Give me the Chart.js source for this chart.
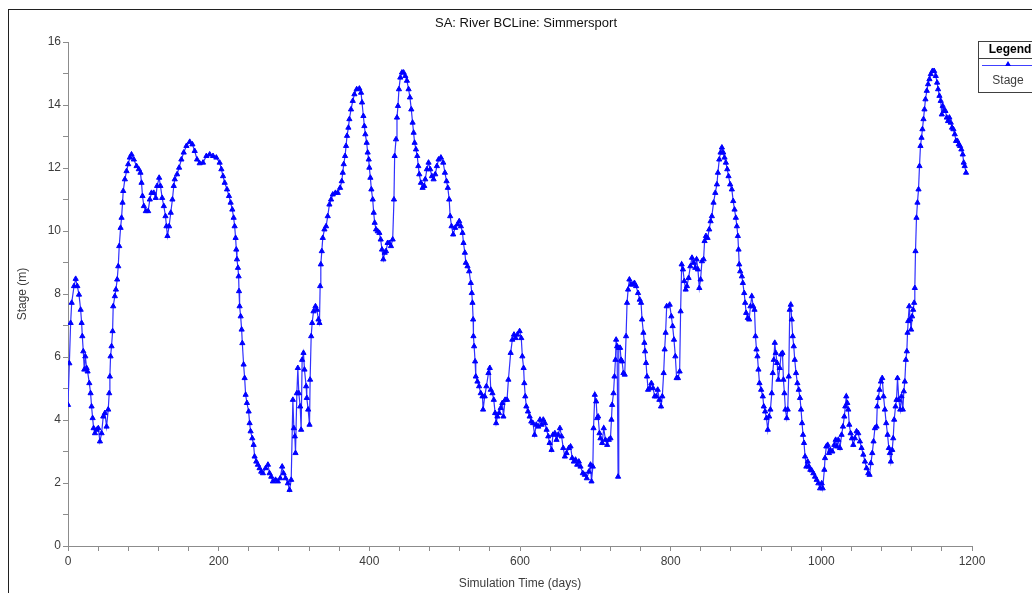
<!DOCTYPE html>
<html>
<head>
<meta charset="utf-8">
<title>SA: River BCLine: Simmersport</title>
<script src="https://cdn.jsdelivr.net/npm/chart.js@4/dist/chart.umd.min.js"></script>
<style>
  html, body { margin: 0; padding: 0; background: #fff; }
  #wrap { width: 1032px; height: 593px; position: relative; }
</style>
</head>
<body>
<div id="wrap"><canvas id="stageChart" width="1032" height="593"></canvas></div>
<script>
// Stage hydrograph at the Simmersport boundary line
const chartTitle = "SA: River BCLine: Simmersport";
const seriesName = "Stage";

// simulation time (days)
const days = [
  0, 1.8, 3.5, 4.9, 8, 10.2, 12.4, 14.6, 16.8, 18.1, 19, 20.3, 21.6, 23, 24.7, 26, 28.3, 30, 31.3, 32.7,
  34, 35.8, 38, 40.2, 42.4, 44.6, 46.8, 49, 51.2, 53.4, 54.7, 55.6, 56.5, 57.8, 59.2, 60, 62.2, 63.6, 65.3, 66.7,
  68, 69.8, 71.1, 72.4, 73.3, 75.5, 77.7, 79.9, 82.1, 84.3, 87.4, 91, 94, 96.2, 97.6, 98.9, 100.7, 103.3, 106.4, 108.6,
  110.8, 113.9, 116.5, 118.3, 121, 122.7, 125, 127.2, 129.4, 130.7, 132, 134.2, 136.4, 138.6, 140.4, 141.7, 144.8, 147.5, 150.5, 153.6,
  157.2, 161.6, 165.1, 168.2, 171.3, 174.8, 179.2, 183.7, 188.1, 192.5, 196.9,
  201.3, 203.6, 205.8, 208, 211.1, 213.7, 215.9, 218.1, 219.9, 221.2, 222.5, 223.4, 224.3, 225.6, 226.5, 227, 227.8, 229.2, 230.5, 231.4,
  233.1, 234.5, 235.8, 237.5, 239.8, 241.1, 242.4, 244.6, 246.4, 247.7, 249.9, 252.1, 254.3, 256.5, 258.7, 262.3, 265.4, 267.6, 269.8, 272,
  275.5, 278.6, 281.7, 284.3, 286.1, 288.8, 291.9, 294.1, 296.3, 298.5, 299.8, 301.1, 302, 303.8, 305.1, 306.4, 308.2, 309.5, 310.8, 312.6,
  313.9, 316.1, 317, 318.8, 320.6, 321.4, 322.8, 324.1, 325.9, 328.5, 330.3, 332.5, 333.8, 334.7, 335.6, 336.9, 338.2, 340.4, 342.6, 344.8,
  347, 349.2, 351.5, 355, 358.1, 361.2, 363.4, 364.7, 366, 367.8, 369.1, 370.4, 372.2, 373.5, 375.7, 378, 380.2, 383.2, 386.8,
  389, 390.3, 392.1, 393.4, 394.7, 396.5, 397.8, 399.2, 400, 401.4, 402.7, 404.5, 405.8, 407.1, 408.9, 411.1, 413.3, 415.1, 416.8, 418.6,
  420.4, 422.1, 424.3, 426.5, 428.7, 431, 432.7, 433.6, 435.4, 436.7, 438, 439.3, 441.1, 443.3, 445.5, 447.7, 449.9, 452.1, 453.9, 455.7,
  457.4, 458.8, 460.1, 461.9, 463.6, 465, 466.3, 468.5, 470.7, 472.9, 474.2, 476.4, 478.6, 480.8, 483.1, 485.3, 487.5, 489.7, 491.9, 495,
  498.1, 500.3, 502.5, 504.2, 506, 507.3, 509.1, 511.3, 513.9, 517, 519.3, 521.5, 523.7, 525, 526.8, 528.1, 530.3, 532.5, 534.7, 536,
  536.9, 537.8, 538.2, 539.1, 540.4, 541.3, 543.5, 545.7, 547.9, 550.2, 551, 553.2, 555.4, 558.1, 559.9, 561.2, 563.4, 565.2, 567, 568.3,
  570, 572.2, 574.4, 576.6, 578, 580.2, 582.8, 584.6,
  587.6, 589.8, 592, 594.2, 596.4, 599.5, 601.7, 603.1, 604.8, 605.7, 607, 608.4, 610.6, 612.8, 615, 617.2, 619.4, 621.6, 624.3, 626.5,
  628.7, 630.9, 633.1, 635.3, 637.5, 639.3, 641.9, 643.7, 646.3, 648.5, 650.7, 653, 655.2, 657.4, 659.6, 661.8, 664.9, 667.1, 669.3, 671.5,
  673.7, 675.9, 678.1, 680.3, 683.4, 686.1, 688.7, 691.4, 693.6, 694.9, 696.7, 697.6, 699.3, 701.1, 702.4, 703.7, 705.5, 706.8, 709, 711.2,
  713.4, 715.7, 717.9, 720.1, 721.4, 722.3, 724.1, 725.4, 726.7, 727.6, 728.9, 730.2, 731.1, 732.9, 734.2, 735.5, 737.3, 739, 740.8, 742.1,
  743.5, 745.2, 747.4, 749.6, 751.9, 754.1, 756.7, 758.9, 760.7, 762, 763.8, 765.1, 766, 767.3, 768.6, 770, 772.2, 774.4, 776.6, 778.8,
  781, 782.8, 785, 787.2, 788.9, 790.7, 792, 793.3, 794.7,
  798.7, 800.9, 802.6, 804.4, 806.2, 807.9, 809.7, 811.9, 813.2, 814.6, 816.3, 818.1, 819.9, 821.6, 823.8, 826.1, 828.3, 830.5, 832.7, 834.4,
  836.2, 838, 839.7, 841.5, 843.7, 845, 846.8, 849, 851.2, 853, 854.7, 856.9, 859.2, 861.4, 862.7, 864.5, 866.2, 868, 869.8, 871.5,
  873.3, 875.1, 876.8, 879, 881.2, 883, 884.8, 886.5, 887.9, 889.2, 890.1, 891, 892.3, 894.5, 895.8, 897.6, 898.9, 900.2, 902.4, 904.2,
  905.9, 907.7, 909.5, 911.3, 912.6, 913.9, 915.2, 916.5, 917.9, 920.1, 922.3, 923.6, 925.4, 927.2, 928.9, 930.7, 932.4, 934.2, 935.5, 936.9,
  938.2, 939.5, 941.3, 943, 944.8, 946.6, 948.4, 949.7, 951, 952.3, 954.1, 955.4, 956.7, 958.1, 959.4, 960.7, 962, 963.4, 964.7, 966.4,
  968.2, 970, 971.7, 973.1, 974.4, 975.7, 977, 978.4, 980.1, 981.9, 983.7, 985.4, 987.2, 989.4, 991.6, 993.8, 996, 998.3, 1000.5, 1001.8,
  1004, 1004.9, 1006.6, 1008.4, 1010.2, 1011.9, 1014.6, 1017.2, 1019, 1020.8, 1022.5, 1024.7, 1026.9, 1028.7, 1030.5, 1031.8, 1033.1, 1034.5, 1035.8, 1037.1,
  1038.9, 1040.6, 1042.4, 1044.6, 1046.8, 1049, 1051.2, 1053.4, 1055.7, 1057.9, 1060.1, 1062.3, 1064, 1065.8, 1067.6, 1069.3, 1071.1, 1073.3, 1074.2, 1075.5,
  1077.3, 1079.1, 1080.8, 1082.6, 1084.3, 1086.1, 1087.9, 1089.6, 1091, 1092.3, 1094.1, 1095.4, 1096.7, 1098.5, 1099.8, 1101.1, 1102.9, 1104.7, 1106.4, 1108.2,
  1109.5, 1110.8, 1112.2, 1113.5, 1114.4, 1115.3, 1116.6, 1117.9, 1119.2, 1120.5, 1121.9, 1123.2, 1124.1, 1125, 1126.3, 1127.6, 1129, 1130.3, 1131.6, 1133,
  1134.2, 1135.6, 1136.9, 1138.2, 1140, 1141.7, 1143.5, 1145.3, 1147.5, 1149.7, 1151.9, 1153.7, 1155, 1156.8, 1158.5, 1159.9, 1161.2, 1163, 1164.7, 1166.5,
  1168.2, 1170, 1171.8, 1173.5, 1175.3, 1177.1, 1178.8, 1180.6, 1182.4, 1184.1, 1185.9, 1187.7, 1189, 1190.3, 1192.1
];

// water stage (m)
const stage = [
  4.48, 5.8, 7.08, 7.72, 8.25, 8.48, 8.25, 7.98, 7.5, 7.08, 6.66, 6.18, 5.6, 6.02, 5.65, 5.54, 5.17, 4.85, 4.43, 4.06,
  3.74, 3.58, 3.69, 3.74, 3.32, 3.58, 4.11, 4.22, 3.79, 4.33, 4.85, 5.38, 6.02, 6.34, 6.82, 7.61, 7.93, 8.14, 8.46, 8.88,
  9.52, 10.1, 10.42, 10.9, 11.27, 11.64, 11.9, 12.12, 12.33, 12.43, 12.27, 12.06, 11.96, 11.85, 11.53, 11.11, 10.79, 10.63, 10.63, 11.0,
  11.21, 11.21, 11.05, 11.43, 11.69, 11.43, 11.05, 10.79, 10.47, 10.15, 9.84, 10.15, 10.58, 11.0, 11.43, 11.64, 11.8, 12.01, 12.27, 12.49,
  12.7, 12.83, 12.75, 12.54, 12.27, 12.15, 12.17, 12.38, 12.43, 12.38, 12.33,
  12.17, 11.96, 11.74, 11.53, 11.32, 11.11, 10.9, 10.68, 10.42, 10.15, 9.78, 9.41, 9.1, 8.83, 8.56, 8.09, 7.61, 7.29, 6.87, 6.44,
  5.76, 5.33, 4.8, 4.54, 4.27, 3.9, 3.64, 3.42, 3.21, 2.84, 2.68, 2.58, 2.47, 2.36, 2.31, 2.47, 2.58, 2.31, 2.2, 2.05,
  2.1, 2.05, 2.15, 2.52, 2.31, 2.15, 1.99, 1.78, 2.1, 4.64, 3.74, 3.48, 2.95, 4.85, 5.65, 4.85, 4.43, 3.69, 5.91, 6.13,
  5.6, 5.07, 4.7, 4.33, 3.85, 5.28, 6.66, 7.08, 7.45, 7.61, 7.5, 7.19, 7.08, 8.25, 8.94, 9.36, 9.78, 10.05, 10.15, 10.47,
  10.84, 11.0, 11.16, 11.21, 11.21, 11.37, 11.58, 11.85, 12.12, 12.38, 12.7, 13.02, 13.28, 13.55, 13.86, 14.13, 14.34, 14.5, 14.52,
  14.39, 14.08, 13.65, 13.33, 13.07, 12.8, 12.49, 12.27, 12.01, 11.69, 11.32, 11.0, 10.58, 10.26, 10.05, 9.99, 9.94, 9.73, 9.41, 9.1,
  9.31, 9.36, 9.62, 9.62, 9.52, 9.73, 11.0, 12.38, 12.91, 13.6, 13.97, 14.5, 14.87, 15.03, 15.03, 14.92, 14.77, 14.5, 14.24, 13.86,
  13.44, 13.12, 12.8, 12.59, 12.38, 12.06, 11.8, 11.53, 11.37, 11.43, 11.64, 11.96, 12.17, 11.96, 11.74, 11.64, 11.8, 12.06, 12.27, 12.33,
  12.17, 11.85, 11.58, 11.37, 11.0, 10.47, 10.15, 9.89, 10.1, 10.21, 10.31, 10.15, 9.94, 9.62, 9.31, 8.99, 8.88, 8.72, 8.35, 8.03,
  7.72, 7.19, 6.66, 6.34, 5.86, 5.38, 5.22, 5.07, 4.85, 4.75, 4.33, 4.75, 5.07, 5.49, 5.65, 4.96, 4.85, 4.64, 4.22, 3.9,
  4.11, 4.22, 4.38, 4.54, 4.11, 4.64, 4.64, 5.28,
  6.13, 6.55, 6.71, 6.6, 6.71, 6.82, 6.6, 6.02, 5.65, 5.17, 4.75, 4.43, 4.27, 4.11, 3.95, 3.9, 3.53, 3.85, 3.79, 4.01,
  3.85, 4.01, 3.9, 3.69, 3.48, 3.27, 3.05, 3.53, 3.58, 3.37, 3.53, 3.74, 3.48, 3.11, 2.84, 2.95, 3.11, 3.16, 2.79, 2.68,
  2.74, 2.58, 2.68, 2.52, 2.31, 2.26, 2.15, 2.36, 2.58, 2.05, 2.52, 3.74, 4.8, 4.59, 4.06, 4.11, 3.58, 3.42, 3.27, 3.74,
  3.37, 3.21, 3.37, 3.42, 4.01, 4.48, 4.85, 5.38, 5.91, 6.55, 6.34, 2.2, 6.29, 6.29, 5.91, 5.86, 5.49, 5.44, 6.66, 7.72,
  8.14, 8.46, 8.3, 8.3, 8.35, 8.25, 8.03, 7.82, 7.72, 7.19, 6.77, 6.45, 6.18, 5.81, 5.38, 4.96, 5.01, 5.17, 5.01, 4.75,
  4.75, 4.96, 4.64, 4.43, 4.75, 5.49, 6.24, 6.77, 7.61,
  7.66, 7.29, 6.98, 6.55, 6.02, 5.33, 5.33, 5.54, 7.45, 8.94, 8.78, 8.41, 8.14, 8.25, 8.51, 8.88, 9.15, 8.99, 8.83, 9.1,
  8.78, 8.19, 8.46, 9.04, 9.1, 9.68, 9.84, 9.78, 10.05, 10.31, 10.47, 10.9, 11.21, 11.48, 11.85, 12.27, 12.49, 12.65, 12.49, 12.33,
  12.17, 11.96, 11.74, 11.48, 11.32, 10.95, 10.68, 10.42, 10.15, 9.84, 9.41, 8.94, 8.72, 8.56, 8.35, 8.03, 7.72, 7.4, 7.24, 7.19,
  7.61, 7.93, 7.61, 7.5, 6.66, 6.24, 6.02, 5.6, 5.17, 4.96, 4.75, 4.43, 4.27, 4.06, 3.69, 4.11, 4.33, 4.85, 5.49, 5.91,
  6.45, 6.13, 5.81, 5.28, 5.65, 6.08, 6.13, 5.28, 4.85, 4.33, 4.06, 4.33, 5.38, 7.5, 7.66, 7.19, 6.66, 6.34, 5.91, 5.49,
  5.17, 4.96, 4.7, 4.33, 3.9, 3.53, 3.27, 2.84, 2.52, 2.68, 2.52, 2.42, 2.4, 2.31, 2.2, 2.1, 1.99, 1.83, 1.99, 1.83,
  2.42, 2.79, 3.16, 3.21, 2.95, 3.05, 3.0, 3.21, 3.37, 3.16, 3.37, 3.11, 3.53, 3.79, 4.11, 4.43, 4.75, 4.54, 4.33, 3.85,
  3.58, 3.42, 3.21, 3.42, 3.64, 3.58, 3.32, 3.11, 2.9, 2.68, 2.47, 2.31, 2.26, 2.63, 2.95, 3.32, 3.74, 3.79, 4.43, 4.7,
  4.96, 5.22, 5.33, 4.75, 4.33, 3.9, 3.53, 3.11, 2.95, 2.68, 3.05, 3.42, 4.01, 4.43, 4.64, 5.33, 4.64, 4.33, 4.75, 4.33,
  4.91, 5.22, 5.91, 6.18, 6.77, 7.14, 7.61, 7.19, 6.87, 7.29, 7.5, 7.72, 8.19, 9.36, 10.42, 10.9, 11.32, 12.06, 12.7, 12.96,
  13.23, 13.55, 13.86, 14.18, 14.45, 14.66, 14.82, 14.98, 15.08, 15.08, 14.92, 14.71, 14.5, 14.29, 14.13, 13.7, 13.97, 13.81, 13.81, 13.6,
  13.49, 13.6, 13.44, 13.28, 13.23, 13.07, 12.86, 12.86, 12.75, 12.7, 12.59, 12.43, 12.17, 12.06, 11.85
];

// labelled ticks; unlabelled minor ticks fall between them
const xTickLabels = [0, 200, 400, 600, 800, 1000, 1200];
const yTickLabels = [0, 2, 4, 6, 8, 10, 12, 14, 16];

const points = days.map((d, i) => ({ x: d, y: stage[i] }));

const axisGrey = "#8c8c8c";
const textGrey = "#3c3c3c";
const fontFamily = "'Liberation Sans', Arial, sans-serif";

// outer frame, title and the boxed legend in the top-right corner
const framePlugin = {
  id: "frame",
  afterDraw(chart) {
    const ctx = chart.ctx;
    const area = chart.chartArea;
    ctx.save();

    ctx.strokeStyle = "#202020";
    ctx.lineWidth = 1;
    ctx.strokeRect(8.5, 9.5, chart.width + 10, chart.height + 10);

    ctx.fillStyle = "#111";
    ctx.font = "13px " + fontFamily;
    ctx.textAlign = "center";
    ctx.textBaseline = "middle";
    ctx.fillText(chartTitle, (area.left + area.right) / 2 + 6, 23);

    // legend box
    const lx = 978.5, ly = 41.5;
    ctx.fillStyle = "#fff";
    ctx.fillRect(lx, ly, 70, 51);
    ctx.strokeStyle = "#404040";
    ctx.strokeRect(lx, ly, 70, 51);
    ctx.beginPath();
    ctx.moveTo(lx, 58.5);
    ctx.lineTo(lx + 70, 58.5);
    ctx.stroke();

    ctx.fillStyle = "#000";
    ctx.font = "bold 12px " + fontFamily;
    ctx.fillText("Legend", 1010, 50);

    ctx.strokeStyle = "#4040ff";
    ctx.beginPath();
    ctx.moveTo(982, 65.5);
    ctx.lineTo(1032, 65.5);
    ctx.stroke();
    ctx.fillStyle = "#0000ff";
    ctx.beginPath();
    ctx.moveTo(1008, 61);
    ctx.lineTo(1011, 66);
    ctx.lineTo(1005, 66);
    ctx.closePath();
    ctx.fill();

    ctx.fillStyle = textGrey;
    ctx.font = "12px " + fontFamily;
    ctx.fillText(seriesName, 1008, 80.5);
    ctx.restore();
  }
};

new Chart(document.getElementById("stageChart"), {
  type: "line",
  data: {
    datasets: [
      {
        label: seriesName,
        data: points,
        borderColor: "#3030ff",
        borderWidth: 1.2,
        pointStyle: "triangle",
        pointRadius: 3,
        pointBackgroundColor: "#0000ff",
        pointBorderColor: "#0000ff",
        pointBorderWidth: 1,
        tension: 0,
        fill: false
      }
    ]
  },
  options: {
    responsive: false,
    animation: false,
    layout: { padding: { top: 42, right: 60, left: 0, bottom: 0 } },
    plugins: {
      legend: { display: false },
      tooltip: { enabled: false },
      title: { display: false }
    },
    scales: {
      x: {
        type: "linear",
        min: 0,
        max: 1200,
        afterFit: (scale) => { scale.height = 47; },
        border: { display: true, color: axisGrey, width: 1 },
        grid: { drawOnChartArea: false, drawTicks: true, tickLength: 5, color: axisGrey },
        ticks: {
          stepSize: 40,
          autoSkip: false,
          maxRotation: 0,
          padding: 3,
          color: textGrey,
          font: { family: fontFamily, size: 12 },
          callback: (v) => (xTickLabels.includes(v) ? String(v) : "")
        },
        title: {
          display: true,
          text: "Simulation Time (days)",
          color: textGrey,
          font: { family: fontFamily, size: 12 },
          padding: { top: 0, bottom: 2 }
        }
      },
      y: {
        min: 0,
        max: 16,
        afterFit: (scale) => { scale.width = 68; },
        border: { display: true, color: axisGrey, width: 1 },
        grid: { drawOnChartArea: false, drawTicks: true, tickLength: 5, color: axisGrey },
        ticks: {
          stepSize: 1,
          autoSkip: false,
          padding: 2,
          color: textGrey,
          font: { family: fontFamily, size: 12 },
          callback: (v) => (yTickLabels.includes(v) ? String(v) : "")
        },
        title: {
          display: true,
          text: "Stage (m)",
          color: textGrey,
          font: { family: fontFamily, size: 12 },
          padding: { top: 15, bottom: 0 }
        }
      }
    }
  },
  plugins: [framePlugin]
});
</script>
</body>
</html>
